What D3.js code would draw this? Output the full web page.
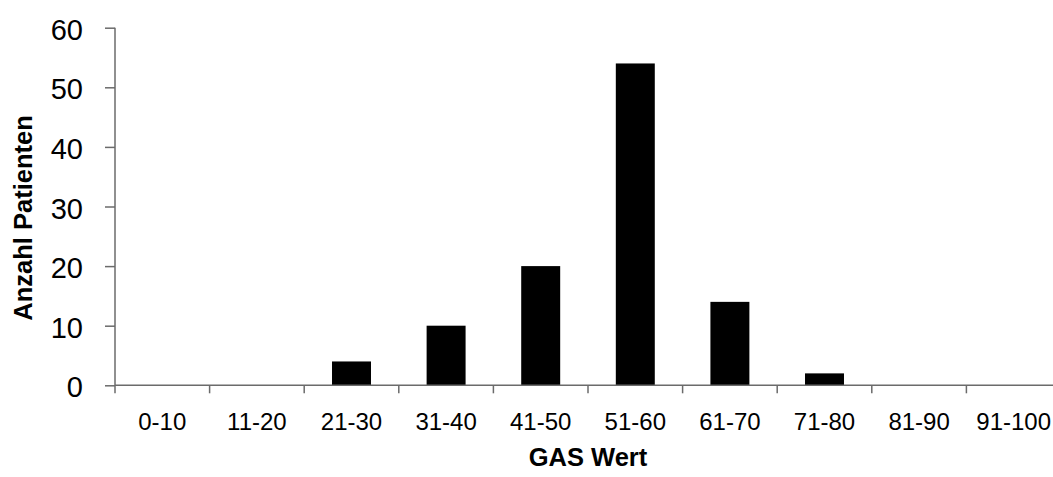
<!DOCTYPE html>
<html>
<head>
<meta charset="utf-8">
<script src="https://cdn.jsdelivr.net/npm/d3@7"></script>
<style>
  html, body { margin: 0; padding: 0; background: #fff; }
  svg { display: block; font-family: "Liberation Sans", Arial, sans-serif; }
</style>
</head>
<body>
<svg id="chart" width="1053" height="477"></svg>
<script>
// GAS score ranges and number of patients per range
const categories = ["0-10", "11-20", "21-30", "31-40", "41-50", "51-60", "61-70", "71-80", "81-90", "91-100"];
const patients   = [0, 0, 4, 10, 20, 54, 14, 2, 0, 0];
const yTicks     = [0, 10, 20, 30, 40, 50, 60];
const xTitle = "GAS Wert";
const yTitle = "Anzahl Patienten";

(function draw() {
  const svg = d3.select("#chart");
  const plotLeft = 115, plotRight = 1061, plotTop = 27.7, plotBottom = 385.3;
  const axisColor = "#6b6b6b";

  const x = d3.scaleBand().domain(categories).range([plotLeft, plotRight]).padding(0);
  const y = d3.scaleLinear().domain([0, 60]).range([plotBottom, plotTop]);

  // bars
  const barFrac = 0.412;
  const bw = x.bandwidth() * barFrac;
  svg.append("g")
    .selectAll("rect")
    .data(categories.map((c, i) => ({ c, v: patients[i] })).filter(d => d.v > 0))
    .join("rect")
    .attr("x", d => x(d.c) + (x.bandwidth() - bw) / 2)
    .attr("y", d => y(d.v))
    .attr("width", bw)
    .attr("height", d => y(0) - y(d.v))
    .attr("fill", "#000");

  // y axis
  const yAxis = svg.append("g")
    .attr("transform", `translate(${plotLeft},0)`)
    .call(d3.axisLeft(y).tickValues(yTicks).tickSize(10).tickPadding(22).tickFormat(d3.format("d")));
  yAxis.select(".domain").attr("stroke", axisColor).attr("stroke-width", 1.5).attr("d", `M0,${plotBottom}V${plotTop}`);
  yAxis.selectAll(".tick line").attr("stroke", axisColor).attr("stroke-width", 1.5);
  yAxis.selectAll(".tick text")
    .attr("fill", "#000")
    .attr("font-size", 29)
    .attr("font-family", "Liberation Sans, Arial, sans-serif")
    .attr("dy", "0.4em");

  // x axis: ticks sit on the band boundaries
  const xAxis = svg.append("g").attr("transform", `translate(0,${plotBottom})`);
  xAxis.append("line")
    .attr("x1", plotLeft).attr("x2", plotRight)
    .attr("stroke", axisColor).attr("stroke-width", 1.5);
  xAxis.selectAll("line.tk")
    .data(categories.concat(["__end"]))
    .join("line")
    .attr("class", "tk")
    .attr("x1", (d, i) => plotLeft + i * x.step())
    .attr("x2", (d, i) => plotLeft + i * x.step())
    .attr("y1", 0).attr("y2", 8)
    .attr("stroke", axisColor).attr("stroke-width", 1.5);
  xAxis.selectAll("text")
    .data(categories)
    .join("text")
    .attr("x", d => x(d) + x.bandwidth() / 2)
    .attr("y", 44.7)
    .attr("text-anchor", "middle")
    .attr("font-size", 24)
    .attr("fill", "#000")
    .text(d => d);

  // axis titles
  svg.append("text")
    .attr("x", (plotLeft + plotRight) / 2)
    .attr("y", 465.7)
    .attr("text-anchor", "middle")
    .attr("font-size", 25.5)
    .attr("font-weight", "bold")
    .text(xTitle);

  svg.append("text")
    .attr("transform", `translate(31.7,218) rotate(-90)`)
    .attr("text-anchor", "middle")
    .attr("font-size", 25.5)
    .attr("font-weight", "bold")
    .text(yTitle);
})();
</script>
</body>
</html>
